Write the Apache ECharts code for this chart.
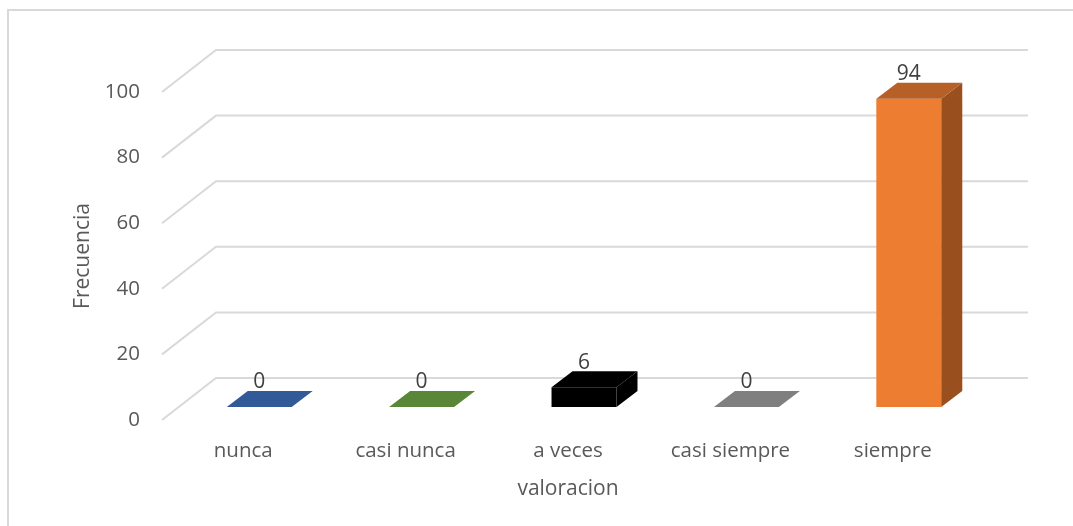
<!DOCTYPE html>
<html>
<head>
<meta charset="utf-8">
<script src="https://cdn.jsdelivr.net/npm/echarts@6/dist/echarts.min.js"></script>
<style>
  html, body { margin: 0; padding: 0; background: #fff; }
  #chart { width: 1073px; height: 526px; }
</style>
</head>
<body>
<div id="chart"></div>
<script>
const categories = ['nunca', 'casi nunca', 'a veces', 'casi siempre', 'siempre'];
const frecuencia = [0, 0, 6, 0, 94];
const barColors = ['#4472C4', '#70AD47', '#000000', '#A5A5A5', '#ED7D31'];
const topColors = ['#335A98', '#5A8637', '#000000', '#7F7F7F', '#B65F26'];
const sideColors = ['#2F5090', '#4E7530', '#000000', '#6E6E6E', '#9A4F1F'];
const yTicks = [0, 20, 40, 60, 80, 100];

const textColor = '#595959';
const font = '"Open Sans", "Liberation Sans", sans-serif';

// depth offsets (3D look)
const depth = [21, -16];
const wallOff = [38, -29];
const floorOff = [-16, 13];

const chart = echarts.init(document.getElementById('chart'));

function renderGrid(params, api) {
  const v = api.value(0);
  const cs = params.coordSys;
  const y = api.coord([0, v])[1];
  const x0 = cs.x, x1 = cs.x + cs.width;
  return {
    type: 'polyline',
    shape: {
      points: [
        [x0 + floorOff[0], y + floorOff[1]],
        [x0 + wallOff[0], y + wallOff[1]],
        [x1 + wallOff[0], y + wallOff[1]]
      ]
    },
    style: { stroke: '#d9d9d9', lineWidth: 2, fill: null }
  };
}

function renderBar(params, api) {
  const i = api.value(0);
  const v = api.value(1);
  const top = api.coord([i, v]);
  const base = api.coord([i, 0]);
  const w = api.size([1, 0])[0] * 0.4;
  const xl = top[0] - w / 2, xr = top[0] + w / 2;
  const yt = top[1], yb = base[1];
  const dx = depth[0], dy = depth[1];
  const children = [];
  if (yb - yt > 0.5) {
    children.push({
      type: 'rect',
      shape: { x: xl, y: yt, width: w, height: yb - yt },
      style: { fill: barColors[i] }
    });
    children.push({
      type: 'polygon',
      shape: { points: [[xr, yt], [xr + dx, yt + dy], [xr + dx, yb + dy], [xr, yb]] },
      style: { fill: sideColors[i] }
    });
  }
  children.push({
    type: 'polygon',
    shape: { points: [[xl, yt], [xr, yt], [xr + dx, yt + dy], [xl + dx, yt + dy]] },
    style: { fill: topColors[i] }
  });
  children.push({
    type: 'text',
    style: {
      x: top[0], y: yt + dy + 2,
      text: String(v),
      fill: '#404040',
      font: '21px ' + font,
      align: 'center',
      verticalAlign: 'bottom'
    }
  });
  return { type: 'group', children: children };
}

chart.setOption({
  animation: false,
  graphic: [{
    type: 'rect',
    shape: { x: 8, y: 10, width: 1200, height: 700 },
    style: { fill: null, stroke: '#d9d9d9', lineWidth: 2 },
    silent: true
  }],
  grid: [
    // bar plane
    { left: 178, width: 812, top: 79, height: 328 },
    // front floor plane (axis labels)
    { left: 162, width: 812, top: 92, height: 328 }
  ],
  xAxis: [
    { type: 'category', gridIndex: 0, data: categories, show: false },
    {
      type: 'category', gridIndex: 1, data: categories,
      axisLine: { show: false }, axisTick: { show: false },
      axisLabel: { color: textColor, fontSize: 20.5, fontFamily: font, margin: 21 },
      name: 'valoracion', nameLocation: 'middle', nameGap: 59,
      nameTextStyle: { color: textColor, fontSize: 21, fontFamily: font }
    }
  ],
  yAxis: [
    { type: 'value', gridIndex: 0, min: 0, max: 100, interval: 20, show: false },
    {
      type: 'value', gridIndex: 1, min: 0, max: 100, interval: 20,
      axisLine: { show: false }, axisTick: { show: false }, splitLine: { show: false },
      axisLabel: { color: textColor, fontSize: 20.5, fontFamily: font, margin: 22 },
      name: 'Frecuencia', nameLocation: 'middle', nameGap: 68,
      nameTextStyle: { color: textColor, fontSize: 21, fontFamily: font }
    }
  ],
  series: [
    {
      type: 'custom',
      xAxisIndex: 0, yAxisIndex: 0,
      renderItem: renderGrid,
      data: yTicks.map(v => [v]),
      z: 1, silent: true
    },
    {
      type: 'custom',
      xAxisIndex: 0, yAxisIndex: 0,
      renderItem: renderBar,
      data: frecuencia.map((v, i) => [i, v]),
      z: 2
    }
  ]
});
</script>
</body>
</html>
